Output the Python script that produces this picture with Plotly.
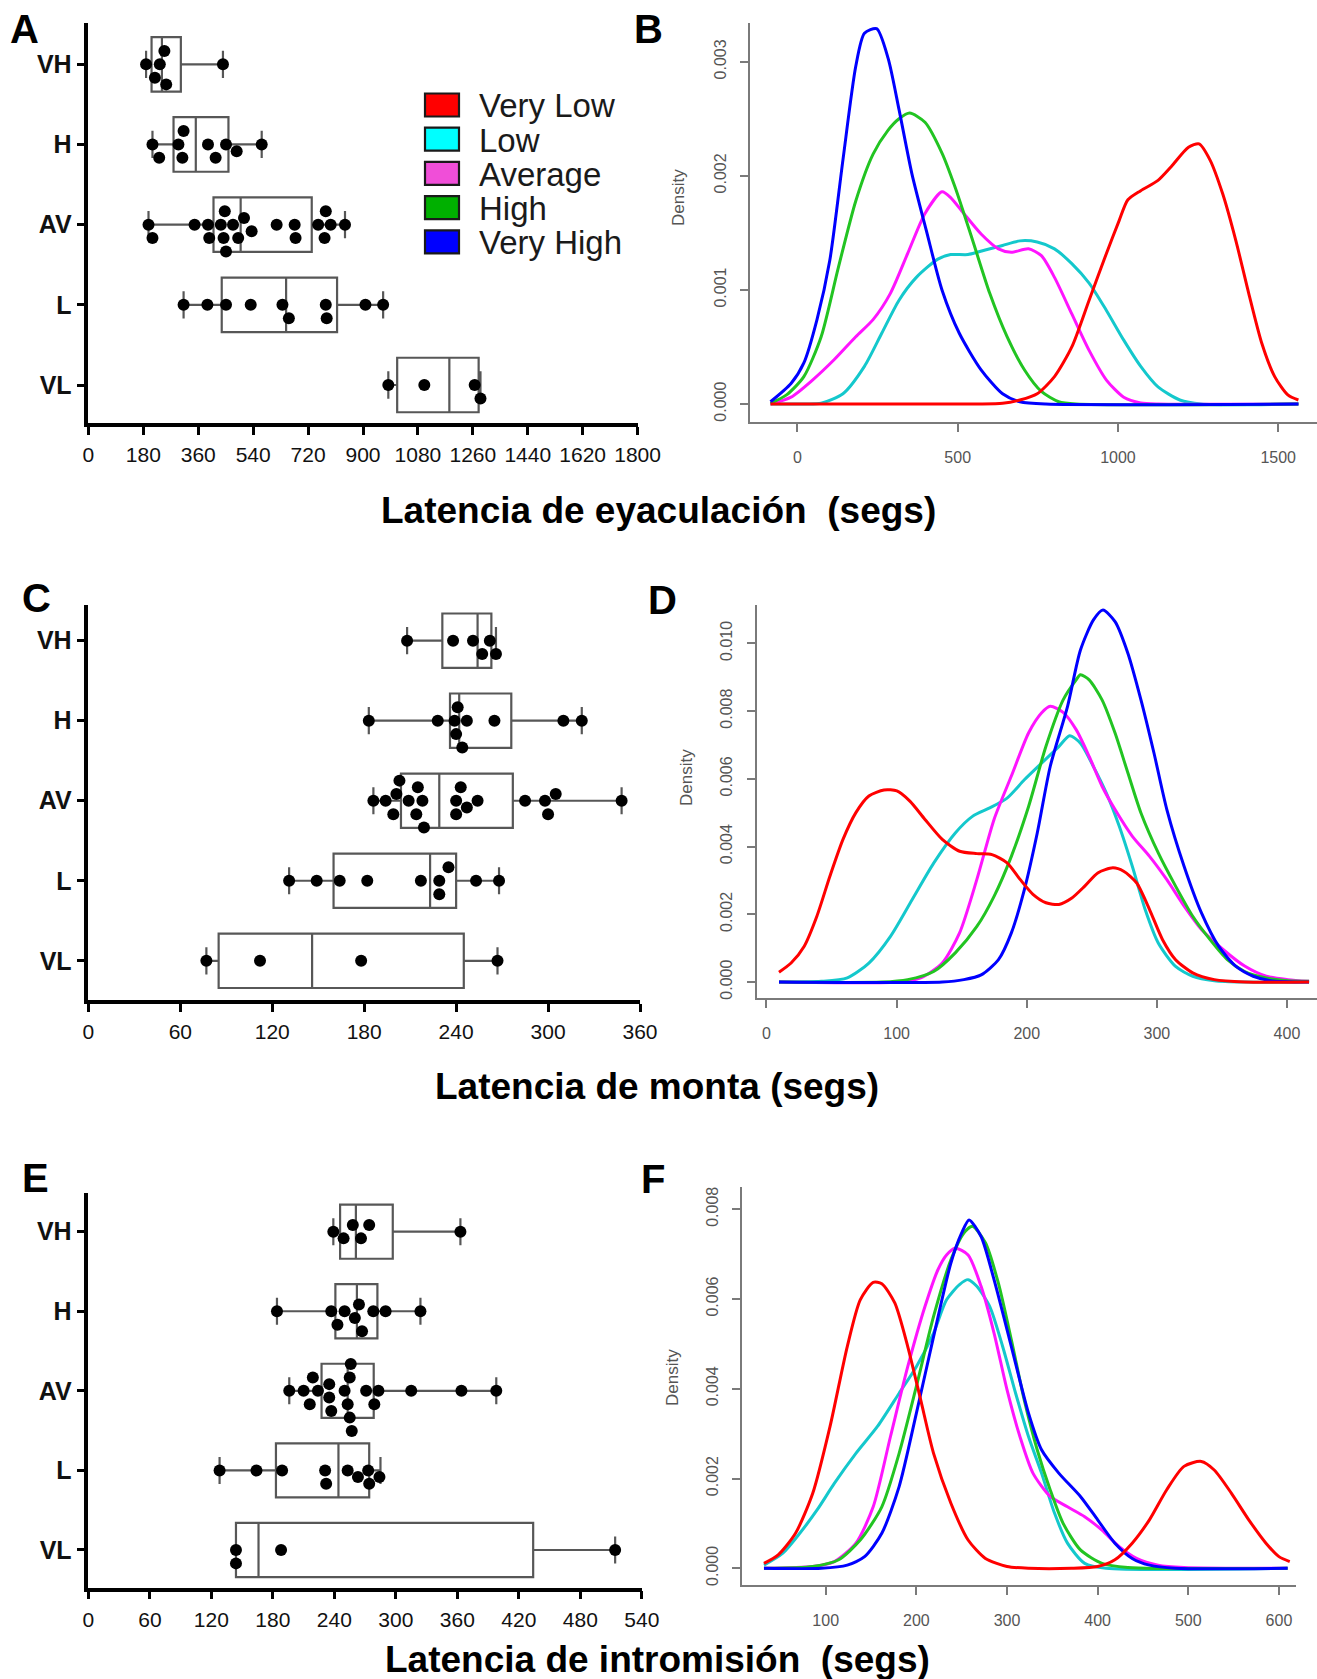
import plotly.graph_objects as go

# ---------------------------------------------------------------- data
GROUPS = ["VL", "L", "AV", "H", "VH"]          # bottom -> top
POS = [0, 1, 2, 3, 4]
LEGEND_NAMES = ["Very Low", "Low", "Average", "High", "Very High"]

# Ejaculation latency (s)
eya_points = {
    "VH": [189, 218, 234, 249, 255, 441],
    "H": [210, 232, 295, 308, 312, 392, 417, 451, 486, 568],
    "AV": [197, 210, 348, 392, 396, 434, 443, 447, 451, 474, 491, 510, 535,
           617, 676, 679, 753, 774, 778, 794, 841],
    "L": [312, 390, 451, 532, 636, 657, 778, 781, 908, 966],
    "VL": [983, 1101, 1266, 1285],
}
eya_q1 = [1012, 437, 410, 279, 207]
eya_med = [1183, 648, 499, 352, 241]
eya_q3 = [1279, 815, 732, 459, 303]
eya_lo = [983, 312, 197, 210, 189]
eya_hi = [1285, 966, 841, 568, 441]

# Mount latency (s)
mon_points = {
    "VH": [208, 238, 251, 257, 262, 266],
    "H": [183, 228, 239, 240, 241, 244, 247, 265, 310, 322],
    "AV": [186, 194, 199, 201, 203, 209, 214, 215, 218, 219, 240, 240, 243,
           247, 254, 285, 298, 300, 305, 348],
    "L": [131, 149, 164, 182, 217, 229, 229, 235, 253, 268],
    "VL": [77, 112, 178, 267],
}
mon_q1 = [85, 160, 204, 236, 231]
mon_med = [146, 223, 229, 242, 254]
mon_q3 = [245, 240, 277, 276, 263]
mon_lo = [77, 131, 186, 183, 208]
mon_hi = [267, 268, 348, 322, 266]

# Intromission latency (s)
int_points = {
    "VH": [239, 249, 258, 266, 274, 363],
    "H": [184, 237, 243, 250, 260, 264, 267, 278, 290, 324],
    "AV": [196, 210, 216, 219, 224, 235, 235, 237, 250, 253, 255, 255, 256,
           257, 271, 279, 283, 315, 364, 398],
    "L": [128, 164, 189, 231, 232, 253, 263, 273, 274, 284],
    "VL": [144, 144, 188, 514],
}
int_q1 = [144, 183, 227.5, 241, 245.6]
int_med = [166, 244, 253, 262, 261]
int_q3 = [434, 274, 278.4, 282, 297]
int_lo = [144, 128, 196, 184, 239]
int_hi = [514, 285, 398, 324, 363]

# Density estimates (density values given in units of 1e-3)
dens_eya = {
    "Very Low": ([-84, 560, 640, 694, 748, 802, 856, 910, 964, 1004, 1031, 1071, 1125, 1166,
                  1220, 1253, 1287, 1327, 1368, 1408, 1449, 1489, 1530, 1563],
                 [0, 0, 0.006, 0.035, 0.09, 0.24, 0.50, 0.91, 1.32, 1.61, 1.79, 1.87, 1.96, 2.08,
                  2.25, 2.28, 2.14, 1.84, 1.43, 0.97, 0.53, 0.24, 0.08, 0.035]),
    "Low": ([-84, 20, 74, 142, 209, 263, 317, 371, 438, 478, 532, 586, 640, 694, 748, 802,
             856, 910, 964, 1018, 1071, 1125, 1193, 1260, 1563],
            [0, 0, 0.006, 0.09, 0.33, 0.62, 0.91, 1.11, 1.27, 1.31, 1.31, 1.35, 1.39, 1.43, 1.42,
             1.36, 1.23, 1.06, 0.82, 0.56, 0.33, 0.15, 0.035, 0, 0]),
    "Average": ([-84, -20, 47, 115, 182, 236, 290, 344, 398, 451, 478, 519, 573, 627, 667,
                 721, 761, 802, 856, 910, 964, 1018, 1071, 1125, 1563],
                [0, 0.06, 0.21, 0.39, 0.59, 0.74, 0.97, 1.32, 1.67, 1.86, 1.81, 1.67, 1.49, 1.36,
                 1.33, 1.36, 1.30, 1.11, 0.79, 0.47, 0.21, 0.06, 0.01, 0, 0]),
    "High": ([-84, -34, 20, 74, 128, 182, 236, 283, 317, 350, 398, 451, 492, 546, 600, 654,
              708, 761, 815, 869, 1563],
             [0.006, 0.08, 0.24, 0.59, 1.20, 1.78, 2.19, 2.40, 2.50, 2.55, 2.47, 2.20, 1.90, 1.44,
              0.97, 0.59, 0.30, 0.11, 0.02, 0, 0]),
    "Very High": ([-84, -20, 20, 61, 101, 142, 182, 209, 247, 283, 317, 357, 404, 451, 505,
                   573, 640, 694, 775, 1563],
                  [0.02, 0.18, 0.36, 0.74, 1.26, 2.14, 2.96, 3.25, 3.29, 3.03, 2.58, 2.02, 1.50,
                   1.00, 0.62, 0.30, 0.09, 0.02, 0, 0]),
}

dens_mon = {
    "Very Low": ([9.6, 18.9, 28.9, 38.8, 48.8, 58.8, 68.7, 78.7, 90.3, 100.2, 110.2, 121.8,
                  135.1, 148.4, 161.7, 173.3, 184.9, 194.9, 204.8, 214.8, 224.7, 234.7, 244.6,
                  254.6, 266.2, 274.5, 284.4, 294.4, 304.4, 314.4, 327.6, 344.2, 367.5, 417],
                 [0.29, 0.56, 1.05, 1.95, 3.13, 4.21, 5.00, 5.49, 5.67, 5.64, 5.34, 4.80, 4.21,
                  3.86, 3.79, 3.76, 3.52, 3.03, 2.59, 2.34, 2.29, 2.48, 2.83, 3.22, 3.37, 3.27,
                  2.93, 2.14, 1.25, 0.66, 0.27, 0.07, 0, 0]),
    "Low": ([9.6, 42.2, 62.1, 78.7, 95.3, 111.9, 128.5, 145.1, 158.3, 171.6, 184.9, 198.2,
             211.4, 224.7, 233.0, 241.3, 251.3, 261.3, 271.2, 281.2, 291.1, 301.1, 314.4, 327.6,
             344.2, 367.5, 417],
            [0, 0.02, 0.12, 0.56, 1.35, 2.43, 3.51, 4.40, 4.89, 5.14, 5.43, 5.97, 6.46, 6.95,
             7.27, 7.05, 6.36, 5.57, 4.59, 3.41, 2.13, 1.15, 0.46, 0.17, 0.04, 0, 0]),
    "Average": ([9.6, 101.9, 118.5, 135.1, 148.4, 161.7, 174.9, 188.2, 201.5, 211.5, 218.1,
                 228.0, 238.0, 248.0, 257.9, 267.9, 281.2, 294.4, 307.7, 321.0, 334.3, 350.9,
                 367.5, 384.1, 400.7, 417],
                [0, 0, 0.12, 0.56, 1.45, 3.03, 4.80, 6.08, 7.36, 7.95, 8.14, 7.96, 7.45, 6.66,
                 5.78, 5.09, 4.30, 3.71, 3.02, 2.24, 1.55, 0.96, 0.47, 0.17, 0.07, 0.02]),
    "High": ([9.6, 88.6, 108.5, 128.5, 145.1, 161.7, 174.9, 188.2, 201.5, 214.8, 228.0, 238.0,
              241.3, 248.0, 257.9, 267.9, 277.8, 287.8, 301.1, 314.4, 327.6, 340.9, 354.2,
              367.5, 384.1, 400.7, 417],
             [0, 0, 0.07, 0.31, 0.86, 1.64, 2.53, 3.71, 5.19, 6.96, 8.33, 8.92, 9.07, 8.92,
              8.33, 7.35, 6.17, 4.99, 3.81, 2.83, 1.94, 1.25, 0.66, 0.31, 0.12, 0.04, 0.02]),
    "Very High": ([9.6, 135.1, 151.7, 165.0, 178.3, 188.2, 198.2, 208.1, 218.1, 231.4, 241.3,
                   251.3, 258.6, 267.9, 277.8, 287.8, 297.8, 307.7, 321.0, 334.3, 347.6, 360.9,
                   374.1, 387.4, 417],
                  [0, 0, 0.07, 0.21, 0.66, 1.45, 2.73, 4.40, 6.37, 8.14, 9.80, 10.69, 10.98,
                   10.64, 9.70, 8.33, 6.76, 5.09, 3.41, 2.04, 1.05, 0.46, 0.17, 0.04, 0]),
}

dens_int = {
    "Very Low": ([31.9, 47.6, 66.7, 85.7, 104.8, 123.8, 138.1, 152.4, 161.9, 176.2, 190.5,
                  204.8, 219.0, 238.1, 257.1, 276.2, 300, 323.8, 371.4, 400, 419, 438.1, 457.1,
                  476.2, 495.2, 514.3, 528.6, 547.6, 566.7, 585.7, 600, 611.9],
                 [0.11, 0.30, 0.78, 1.67, 3.16, 4.94, 5.98, 6.37, 6.34, 5.91, 4.94, 3.75, 2.56,
                  1.45, 0.63, 0.22, 0.04, 0, 0, 0.04, 0.19, 0.56, 1.08, 1.75, 2.27, 2.38, 2.19,
                  1.67, 1.08, 0.56, 0.26, 0.15]),
    "Low": ([31.9, 52.4, 71.4, 90.5, 109.5, 133.3, 157.1, 181.0, 200.0, 219.0, 233.3, 247.6,
             257.1, 266.7, 281.0, 295.2, 309.5, 323.8, 338.1, 352.4, 366.7, 385.7, 409.5, 609.5],
            [0.07, 0.33, 0.78, 1.30, 1.89, 2.56, 3.16, 3.90, 4.49, 5.24, 5.98, 6.32, 6.43, 6.28,
             5.83, 4.94, 3.90, 2.93, 2.12, 1.23, 0.56, 0.11, 0, 0]),
    "Average": ([31.9, 85.7, 109.5, 133.3, 152.4, 171.4, 190.5, 209.5, 223.8, 233.3, 242.9,
                 257.1, 271.4, 285.7, 300.0, 314.3, 328.6, 347.6, 366.7, 385.7, 404.8, 423.8,
                 442.9, 466.7, 495.2, 609.5],
                [0, 0.04, 0.15, 0.56, 1.37, 2.93, 4.49, 5.83, 6.65, 6.98, 7.13, 6.98, 6.28, 5.24,
                 3.98, 2.93, 2.12, 1.60, 1.37, 1.15, 0.85, 0.48, 0.22, 0.07, 0.02, 0]),
    "High": ([31.9, 85.7, 114.3, 138.1, 161.9, 181.0, 200.0, 219.0, 238.1, 252.4, 261.9,
              276.2, 290.5, 304.8, 319.0, 333.3, 347.6, 361.9, 381.0, 404.8, 433.3, 609.5],
             [0, 0.04, 0.19, 0.63, 1.37, 2.56, 4.05, 5.61, 6.87, 7.47, 7.62, 7.25, 6.35, 5.09,
              3.75, 2.64, 1.75, 1.00, 0.41, 0.11, 0.02, 0]),
    "Very High": ([31.9, 95.2, 123.8, 142.9, 161.9, 181.0, 200.0, 219.0, 238.1, 250.0, 258.1,
                   271.4, 285.7, 304.8, 323.8, 338.1, 357.1, 381.0, 400.0, 419.0, 438.1, 457.1,
                   485.7, 609.5],
                  [0, 0, 0.07, 0.26, 0.78, 1.82, 3.45, 5.16, 6.80, 7.47, 7.76, 7.39, 6.43, 4.94,
                   3.45, 2.64, 2.12, 1.60, 1.08, 0.56, 0.22, 0.07, 0, 0]),
}

# ---------------------------------------------------------------- style
W, H = 1317, 1679
FONT = "Arial, 'Liberation Sans', sans-serif"
LINE_COLORS = {"Very Low": "#FF0000", "Low": "#14C8CC", "Average": "#FF14FF",
               "High": "#22C422", "Very High": "#0000FF"}
SWATCH_COLORS = ["#FF0000", "#00FFFF", "#F04ED8", "#00B000", "#0000FF"]
DRAW_ORDER = ["Low", "Average", "High", "Very High", "Very Low"]
BOX_LINE = "#575757"


def xdom(left, right):
    return [left / W, right / W]


def ydom(top, bottom):
    return [1 - bottom / H, 1 - top / H]


def swarm(values, px_per_unit, px_per_cat, diam=11.5, step=6.7):
    """Greedy beeswarm: vertical offsets (in category units) so dots don't overlap."""
    order = sorted(range(len(values)), key=lambda i: values[i])
    placed, offs = [], [0.0] * len(values)
    cands = [0] + [s * m for m in range(1, 30) for s in (1, -1)]
    for i in order:
        xp = values[i] * px_per_unit
        for c in cands:
            yp = c * step
            if all((xp - a) ** 2 + (yp - b) ** 2 >= diam ** 2 for a, b in placed):
                break
        placed.append((xp, yp))
        offs[i] = -yp / px_per_cat
    return offs


fig = go.Figure()

box_panels = [
    # (axis suffix, points, q1, med, q3, lo, hi, px/unit, px/category)
    ("", eya_points, eya_q1, eya_med, eya_q3, eya_lo, eya_hi, 549.2 / 1800, 80.2),
    ("3", mon_points, mon_q1, mon_med, mon_q3, mon_lo, mon_hi, 551.6 / 360, 80.0),
    ("5", int_points, int_q1, int_med, int_q3, int_lo, int_hi, 553.4 / 540, 79.6),
]

for sfx, pts, q1, med, q3, lo, hi, ppu, ppc in box_panels:
    xa, ya = "x" + sfx, "y" + sfx
    fig.add_trace(go.Box(
        orientation="h", y=POS, q1=q1, median=med, q3=q3,
        lowerfence=lo, upperfence=hi, width=0.68, whiskerwidth=0.5,
        boxpoints=False, fillcolor="white",
        line=dict(color=BOX_LINE, width=2.2),
        xaxis=xa, yaxis=ya, showlegend=False, hoverinfo="skip",
    ))
    xs, ys = [], []
    for g, p in zip(GROUPS, POS):
        vals = pts[g]
        offs = swarm(vals, ppu, ppc)
        xs += vals
        ys += [p + o for o in offs]
    fig.add_trace(go.Scatter(
        x=xs, y=ys, mode="markers",
        marker=dict(color="black", size=12, line=dict(width=0)),
        xaxis=xa, yaxis=ya, showlegend=False, hoverinfo="skip", cliponaxis=False,
    ))

for sfx, dens in [("2", dens_eya), ("4", dens_mon), ("6", dens_int)]:
    for name in DRAW_ORDER:
        xv, yv = dens[name]
        fig.add_trace(go.Scatter(
            x=xv, y=[v * 1e-3 for v in yv], mode="lines", name=name,
            line=dict(color=LINE_COLORS[name], width=3, shape="spline", smoothing=0.7),
            xaxis="x" + sfx, yaxis="y" + sfx, showlegend=False, hoverinfo="skip",
        ))

# ---------------------------------------------------------------- axes
def box_xaxis(dom, rng, dtick, anchor):
    return dict(domain=xdom(*dom), range=rng, anchor=anchor, tick0=0, dtick=dtick,
                showline=True, linecolor="black", linewidth=3.5,
                ticks="outside", ticklen=8, tickwidth=3, tickcolor="black",
                tickfont=dict(family=FONT, size=21, color="#111111"), tickangle=0,
                ticklabelstandoff=2, showgrid=False, zeroline=False, fixedrange=True,
                automargin=False)


def box_yaxis(dom, rng, anchor):
    return dict(domain=ydom(*dom), range=rng, anchor=anchor,
                tickmode="array", tickvals=POS, ticktext=GROUPS,
                showline=True, linecolor="black", linewidth=3.5,
                ticks="outside", ticklen=8, tickwidth=3, tickcolor="black",
                tickfont=dict(family=FONT, size=25, color="#111111", weight="bold"),
                showgrid=False, zeroline=False, fixedrange=True, automargin=False)


def r_xaxis(dom, rng, dtick, tick0, anchor):
    return dict(domain=xdom(*dom), range=rng, anchor=anchor, tick0=tick0, dtick=dtick,
                showline=True, linecolor="#7a7a7a", linewidth=1.8,
                ticks="outside", ticklen=8, tickwidth=1.5, tickcolor="#7a7a7a",
                tickfont=dict(family=FONT, size=16, color="#555555"), tickangle=0,
                ticklabelstandoff=12, showgrid=False, zeroline=False, fixedrange=True,
                automargin=False)


def r_yaxis(dom, rng, dtick, anchor):
    return dict(domain=ydom(*dom), range=rng, anchor=anchor, tick0=0, dtick=dtick,
                tickformat=".3f", tickangle=-90,
                showline=True, linecolor="#7a7a7a", linewidth=1.8,
                ticks="outside", ticklen=8, tickwidth=1.5, tickcolor="#7a7a7a",
                tickfont=dict(family=FONT, size=16, color="#555555"),
                ticklabelstandoff=8, showgrid=False, zeroline=False, fixedrange=True,
                automargin=False)


layout = dict(
    width=W, height=H, autosize=False,
    margin=dict(l=0, r=0, t=0, b=0, pad=0),
    paper_bgcolor="white", plot_bgcolor="white",
    font=dict(family=FONT, color="black"),
    showlegend=False,
    xaxis=box_xaxis((88.4, 637.6), [0, 1800], 180, "y"),
    yaxis=box_yaxis((23, 423), [-0.474, 4.515], "x"),
    xaxis3=box_xaxis((88.4, 640.0), [0, 360], 60, "y3"),
    yaxis3=box_yaxis((605, 1000), [-0.49, 4.446], "x3"),
    xaxis5=box_xaxis((88.4, 641.8), [0, 540], 60, "y5"),
    yaxis5=box_yaxis((1193, 1587.7), [-0.474, 4.486], "x5"),
    xaxis2=r_xaxis((750, 1317), [-148, 1621], 500, 0, "y2"),
    yaxis2=r_yaxis((23.3, 421.7), [-0.000155, 0.003337], 0.001, "x2"),
    xaxis4=r_xaxis((756.6, 1317), [-7.6, 423.1], 100, 0, "y4"),
    yaxis4=r_yaxis((605, 998), [-0.000472, 0.01113], 0.002, "x4"),
    xaxis6=r_xaxis((742.3, 1296), [8.0, 618.8], 100, 0, "y6"),
    yaxis6=r_yaxis((1186.7, 1585), [-0.000372, 0.0085], 0.002, "x6"),
)

annotations, shapes = [], []


def text_at(px, py, text, size, bold=False, color="black", xanchor="center",
            angle=0):
    annotations.append(dict(
        x=px / W, y=1 - py / H, xref="paper", yref="paper", text=text,
        showarrow=False, xanchor=xanchor, yanchor="middle", textangle=angle,
        font=dict(family=FONT, size=size, color=color,
                  weight="bold" if bold else "normal"),
    ))


# panel letters
for letter, px, py in [("A", 8, 29), ("B", 632, 29), ("C", 20, 598),
                       ("D", 646, 600), ("E", 20, 1178), ("F", 639, 1179)]:
    text_at(px, py, letter, 40, bold=True, xanchor="left")

# axis titles of the box panels
text_at(658, 510, "Latencia de eyaculación  (segs)", 37, bold=True)
text_at(657, 1086, "Latencia de monta (segs)", 37, bold=True)
text_at(657, 1659, "Latencia de intromisión  (segs)", 37, bold=True)

# "Density" labels of the density panels
text_at(679, 198, "Density", 17, color="#555555", angle=-90)
text_at(686, 778, "Density", 17, color="#555555", angle=-90)
text_at(672, 1378, "Density", 17, color="#555555", angle=-90)

# colour key
for i, (name, col) in enumerate(zip(LEGEND_NAMES, SWATCH_COLORS)):
    cy = 105 + i * 34.2
    shapes.append(dict(type="rect", xref="paper", yref="paper",
                       x0=425 / W, x1=459 / W, y0=1 - (cy + 11.5) / H, y1=1 - (cy - 11.5) / H,
                       fillcolor=col, line=dict(color="#1a1a1a", width=2.2)))
    text_at(477, cy + 1, name, 33, color="#1a1a1a", xanchor="left")

layout["annotations"] = annotations
layout["shapes"] = shapes
fig.update_layout(**layout)

fig.write_html("out.html", config={"displayModeBar": False})
